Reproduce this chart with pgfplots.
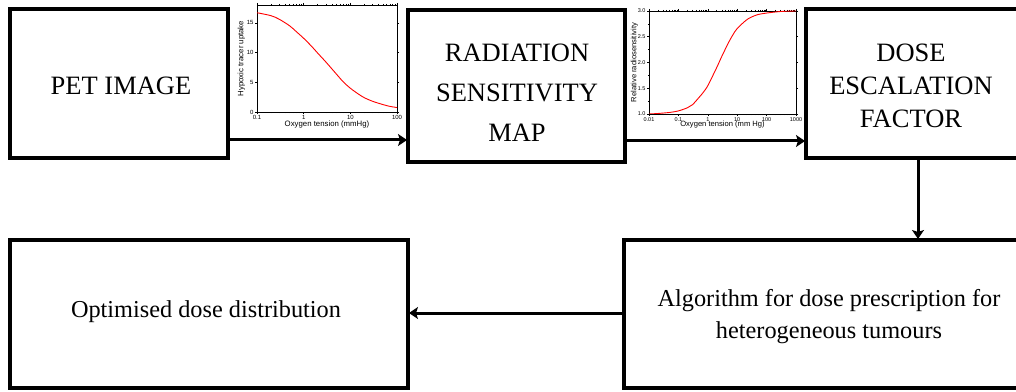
\documentclass[border=0pt]{standalone}
\usepackage{pgfplots}
\pgfplotsset{compat=1.18}
\usepackage{fontspec}
\setmainfont{Liberation Serif}
\newfontfamily\tnr{Liberation Serif}
\newfontfamily\arial{Liberation Sans}
\usetikzlibrary{arrows.meta}
\begin{document}
\begin{tikzpicture}
\path[use as bounding box] (0pt,0pt) rectangle (1016pt,391pt);
\clip (0pt,0pt) rectangle (1016pt,391pt);
\begin{scope}[x=1pt,y=1pt]
% boxes
\begin{scope}[line width=3.8pt]
\draw (10,382) rectangle (228,233);
\draw (408,381) rectangle (625,229);
\draw (806,382) rectangle (1022,233);
\draw (10,151) rectangle (408,3);
\draw (624,151) rectangle (1034,3);
\end{scope}
% arrows
\begin{scope}[line width=3pt,-{Stealth[length=9pt,width=12pt,inset=2pt]}]
\draw (230,251) -- (407,251);
\draw (627,250) -- (805,250);
\draw (918,231) -- (918,152);
\draw (622,78) -- (409,78);
\end{scope}
% texts
\node[font=\tnr\fontsize{26.5}{40}\selectfont] at (121,305) {PET IMAGE};
\node[font=\tnr\fontsize{26.5}{40}\selectfont,align=center] at (517,298) {RADIATION\\SENSITIVITY\\MAP};
\node[font=\tnr\fontsize{26.5}{33}\selectfont,align=center] at (911,305) {DOSE\\ESCALATION\\FACTOR};
\node[font=\tnr\fontsize{24.3}{30}\selectfont] at (206,79) {Optimised dose distribution};
\node[font=\tnr\fontsize{24.3}{32}\selectfont,align=center] at (829,74) {Algorithm for dose prescription for\\heterogeneous tumours};
\end{scope}
% plot 1
\begin{axis}[at={(257pt,279pt)},anchor=south west,scale only axis,width=140pt,height=107pt,
  xmode=log,xmin=0.1,xmax=100,ymin=0,ymax=18,
  xtick={0.1,1,10,100},xticklabels={0.1,1,10,100},
  ytick={0,5,10,15},yticklabels={0,5,10,15},
  tick align=outside,tick pos=both,
  major tick length=2pt,minor tick length=1.2pt,
  axis line style={line width=0.8pt},every tick/.style={black,line width=0.5pt},
  ticklabel style={font=\arial\fontsize{6}{6}\selectfont},
  xticklabel style={yshift=2pt},yticklabel style={xshift=2pt},
  xlabel={Oxygen tension (mmHg)},ylabel={Hypoxic tracer uptake},
  label style={font=\arial\fontsize{7.8}{8}\selectfont},
  xlabel style={yshift=6pt},ylabel style={yshift=-5pt},
  /pgf/number format/assume math mode=true]
\addplot[red,line width=0.9pt,smooth] coordinates {
(0.1,16.7)(0.2,16.2)(0.3,15.6)(0.5,14.5)(0.7,13.5)(1,12.4)(1.5,11.0)(2,9.9)(3,8.4)(5,6.4)(7,5.1)(10,4.0)(15,3.0)(20,2.4)(30,1.8)(50,1.25)(70,0.95)(100,0.75)};
\end{axis}
% plot 2
\begin{axis}[at={(649pt,277pt)},anchor=south west,scale only axis,width=147pt,height=103pt,
  xmode=log,xmin=0.01,xmax=1000,ymin=1,ymax=3,
  xtick={0.01,0.1,1,10,100,1000},xticklabels={0.01,0.1,1,10,100,1000},
  ytick={1,1.5,2,2.5,3},yticklabels={1.0,1.5,2.0,2.5,3.0},
  minor ytick={1.25,1.75,2.25,2.75},
  tick align=outside,tick pos=both,
  major tick length=2pt,minor tick length=1.2pt,
  axis line style={line width=0.8pt},every tick/.style={black,line width=0.5pt},
  ticklabel style={font=\arial\fontsize{5.5}{6}\selectfont},
  xticklabel style={yshift=2pt},yticklabel style={xshift=2pt},
  xlabel={Oxygen tension (mm Hg)},ylabel={Relative radiosensitivity},
  label style={font=\arial\fontsize{7.6}{8}\selectfont},
  xlabel style={yshift=7pt},ylabel style={yshift=-7pt},
  /pgf/number format/assume math mode=true]
\addplot[red,line width=0.9pt,smooth] coordinates {
(0.01,1.0)(0.02,1.01)(0.05,1.03)(0.1,1.06)(0.2,1.12)(0.3,1.18)(0.5,1.32)(0.7,1.42)(1,1.55)(2,1.90)(3,2.12)(5,2.38)(7,2.53)(10,2.66)(20,2.82)(30,2.88)(50,2.93)(100,2.96)(300,2.99)(1000,3.0)};
\end{axis}
\end{tikzpicture}
\end{document}
